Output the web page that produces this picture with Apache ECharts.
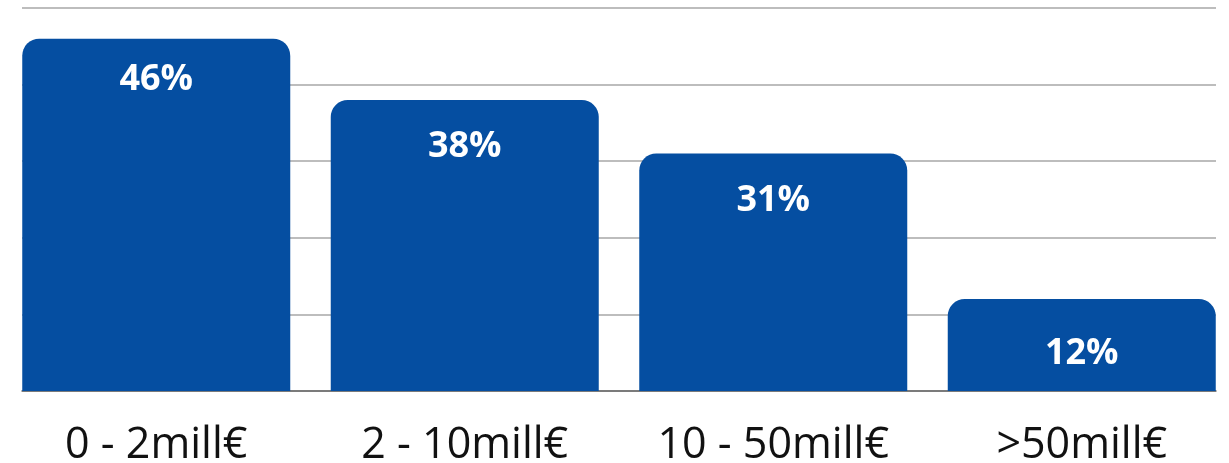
<!DOCTYPE html>
<html>
<head>
<meta charset="utf-8">
<script src="https://cdn.jsdelivr.net/npm/echarts@6/dist/echarts.min.js"></script>
<style>
html,body{margin:0;padding:0;background:#fff;}
#c{width:1229px;height:463px;}
</style>
</head>
<body>
<div id="c"></div>
<script>
const categories = ['0 - 2mill€', '2 - 10mill€', '10 - 50mill€', '>50mill€'];
const values = [46, 38, 31, 12];
const labelDistances = [23, 29, 29, 37];

const chart = echarts.init(document.getElementById('c'), null, {renderer: 'canvas'});
chart.setOption({
  animation: false,
  grid: [
    {left: 2, width: 1234, top: 8, bottom: 72, outerBoundsMode: 'none', containLabel: false},
    {left: 22, right: 13, top: 8, bottom: 72, outerBoundsMode: 'none', containLabel: false}
  ],
  xAxis: [
    {
      gridIndex: 0, type: 'category', data: categories,
      axisLine: {show: false}, axisTick: {show: false},
      axisLabel: {fontFamily: 'Open Sans', fontSize: 43, color: '#111', margin: 33}
    },
    {
      gridIndex: 1, type: 'category', data: categories,
      axisLine: {show: true, lineStyle: {color: '#666', width: 1.5}},
      axisTick: {show: false}, axisLabel: {show: false}
    }
  ],
  yAxis: [
    {gridIndex: 0, type: 'value', min: 0, max: 50, interval: 10, show: false},
    {
      gridIndex: 1, type: 'value', min: 0, max: 50, interval: 10,
      axisLabel: {show: false}, axisLine: {show: false}, axisTick: {show: false},
      splitLine: {lineStyle: {color: '#bdbdbd', width: 2}}
    }
  ],
  series: [{
    type: 'bar',
    xAxisIndex: 0, yAxisIndex: 0,
    barWidth: 268,
    z: 5,
    itemStyle: {color: '#054ea1', borderRadius: [17, 17, 0, 0]},
    data: values.map((v, i) => ({
      value: v,
      label: {distance: labelDistances[i]}
    })),
    label: {
      show: true, position: 'insideTop',
      formatter: '{c}%',
      color: '#fff', fontFamily: 'Open Sans', fontWeight: 'bold', fontSize: 36
    }
  }]
});
</script>
</body>
</html>
